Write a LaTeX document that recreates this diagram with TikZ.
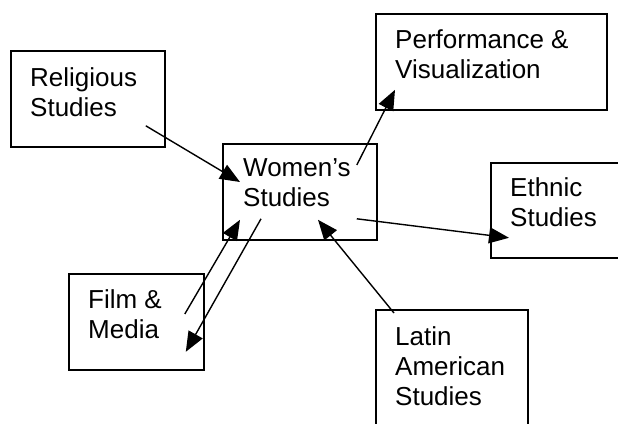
\documentclass[tikz,border=0pt]{standalone}
\usepackage{fontspec}
\setmainfont{Liberation Sans}
\usetikzlibrary{arrows.meta}
\begin{document}
\begin{tikzpicture}[x=1pt, y=-1pt,
  box/.style={draw, line width=1.8pt, anchor=north west, inner sep=0pt},
  lbl/.style={anchor=north west, inner sep=0pt, align=left, font=\fontsize{26}{30}\selectfont},
  link/.style={line width=1.4pt, -{Triangle[length=20pt, width=16pt]}}
]
  \useasboundingbox (0,0) rectangle (618,423);
  \clip (0,0) rectangle (618,423);
  \node[box, minimum width=154, minimum height=96] (religious) at (10,50) {};
  \node[box, minimum width=154, minimum height=96] (womens) at (222,143) {};
  \node[box, minimum width=231, minimum height=96] (perf) at (375,13) {};
  \node[box, minimum width=160, minimum height=95] (ethnic) at (490,162) {};
  \node[box, minimum width=135, minimum height=96] (film) at (68,273) {};
  \node[box, minimum width=152, minimum height=160] (latin) at (375,309) {};
  \node[lbl] (religioustext) at ([shift={(20,17)}]religious.north west) {Religious\\Studies};
  \node[lbl] (womenstext) at ([shift={(21,15)}]womens.north west) {Women’s\\Studies};
  \node[lbl] (perftext) at ([shift={(20,16)}]perf.north west) {Performance \&\\Visualization};
  \node[lbl] (ethnictext) at ([shift={(20,15)}]ethnic.north west) {Ethnic\\Studies};
  \node[lbl] (filmtext) at ([shift={(20,16)}]film.north west) {Film \&\\Media};
  \node[lbl] (latintext) at ([shift={(20,17)}]latin.north west) {Latin\\American\\Studies};
  \draw[link] ([shift={(-20,-22)}]religious.south east) -- ([shift={(18,39)}]womens.north west);
  \draw[link] ([shift={(-21,22)}]womens.north east) -- ([shift={(20,-21)}]perf.south west);
  \draw[link] ([shift={(-21,-22)}]womens.south east) -- ([shift={(19,-21)}]ethnic.south west);
  \draw[link] ([shift={(19,4)}]latin.north west) -- ([shift={(96,-21)}]womens.south west);
  \draw[link] ([shift={(-20,41)}]film.north east) -- ([shift={(18,-21)}]womens.south west);
  \draw[link] ([shift={(39,-22)}]womens.south west) -- ([shift={(-19,-19)}]film.south east);
\end{tikzpicture}
\end{document}
